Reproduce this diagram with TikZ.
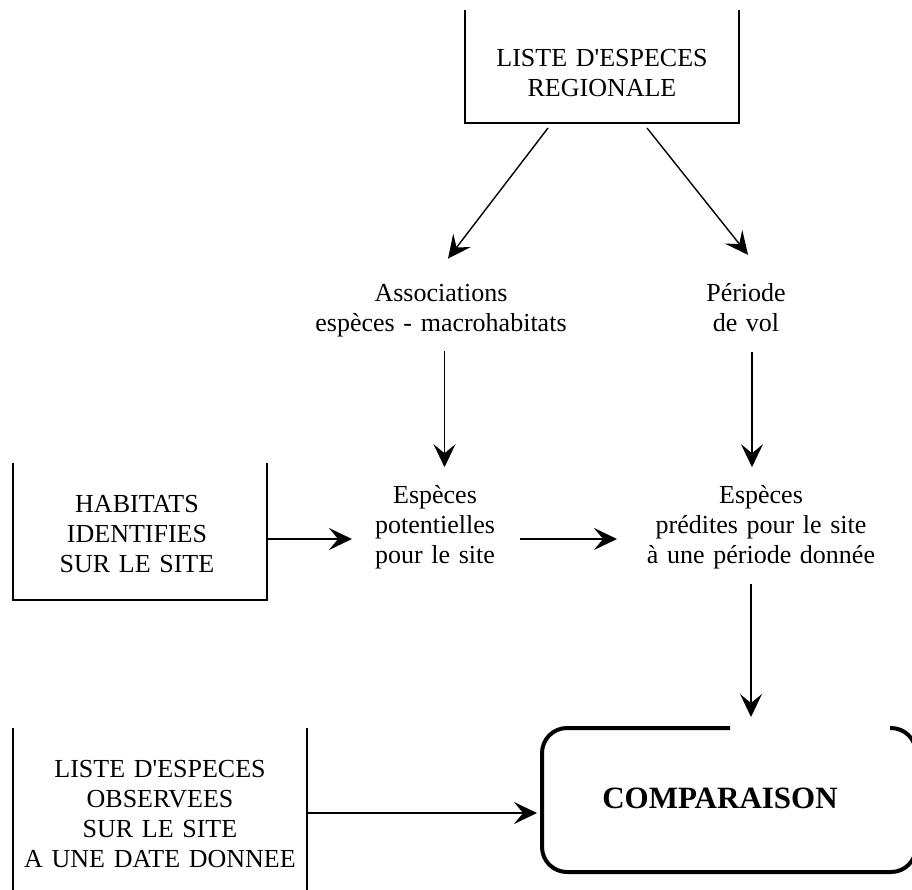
\documentclass[tikz,border=0pt]{standalone}
\usepackage{fontspec}
\newfontfamily\tnr{Liberation Serif}
\usetikzlibrary{arrows.meta,calc}
\begin{document}
\begin{tikzpicture}[x=1pt,y=-1pt,
  txt/.style={font=\tnr\fontsize{26}{30}\selectfont, align=center, inner sep=0pt, outer sep=0pt},
  frame/.style={inner sep=0pt, outer sep=0pt, draw=none},
  side/.style={line width=1.7pt},
  arr/.style={line width=1.4pt, -{Stealth[length=23pt,width=22pt,inset=9pt]}},
  combox/.style={line width=4pt, rounded corners=25pt}
]
\useasboundingbox (0,0) rectangle (912,889);
\clip (0,0) rectangle (912,889);

% frames
\node[frame, minimum width=274pt, minimum height=113pt] (regF) at (602,66.5) {};
\node[frame, minimum width=254pt, minimum height=137pt] (habF) at (140,531.5) {};
\node[frame, minimum width=294pt, minimum height=172pt] (obsF) at (160,814) {};
\node[frame, minimum width=374pt, minimum height=144pt] (compF) at (729,800) {};

% texts
\node[txt, text width=260pt] (reg) at (602,73.5) {LISTE D'ESPECES\\REGIONALE};
\node[txt, text width=260pt] (assoc) at (441,311) {Associations\\espèces - macrohabitats};
\node[txt, text width=110pt] (per) at (746,308) {Période\\de vol};
\node[txt, text width=150pt] (pot) at (435,527) {Espèces\\potentielles\\pour le site};
\node[txt, text width=270pt] (pred) at (761,527) {Espèces\\prédites pour le site\\à une période donnée};
\node[txt, text width=240pt] (hab) at (137,534.5) {HABITATS\\IDENTIFIES\\SUR LE SITE};
\node[txt, text width=290pt] (obs) at (160,814) {LISTE D'ESPECES\\OBSERVEES\\SUR LE SITE\\A UNE DATE DONNEE};
\node[font=\tnr\bfseries\fontsize{31}{36}\selectfont, inner sep=0pt] (comp) at (720,798) {COMPARAISON};

% frame sides
\draw[side] (regF.north west) -- (regF.south west) -- (regF.south east) -- (regF.north east);
\draw[side] (habF.north west) -- (habF.south west) -- (habF.south east) -- (habF.north east);
\draw[side] (obsF.north west) -- (obsF.south west) (obsF.north east) -- (obsF.south east);
\draw[combox] ($(compF.north)+(1,0)$) -- (compF.north west) -- (compF.south west) -- (compF.south east) -- (compF.north east) -- ($(compF.north east)+(-26,0)$);

% connectors
\draw[arr] ($(regF.south)+(-54,5)$) -- ($(assoc.north)+(7,-26)$);
\draw[arr] ($(regF.south)+(45,5)$) -- ($(per.north)+(2,-29)$);
\draw[arr] ($(assoc.south)+(3.5,14)$) -- ($(pot.north)+(9.5,-18)$);
\draw[arr] ($(per.south)+(6,20)$) -- ($(pred.north)+(-9,-18)$);
\draw[arr] ($(pred.south)+(-10,15)$) -- ($(compF.north)+(22,-11)$);
\draw[arr] ($(habF.east)+(0,7.5)$) -- ($(pot.west)+(-8,12)$);
\draw[arr] ($(pot.east)+(10,12)$) -- ($(pred.west)+(-9,12)$);
\draw[arr] ($(obsF.east)+(0,-1)$) -- ($(compF.west)+(-5,13)$);
\end{tikzpicture}
\end{document}
